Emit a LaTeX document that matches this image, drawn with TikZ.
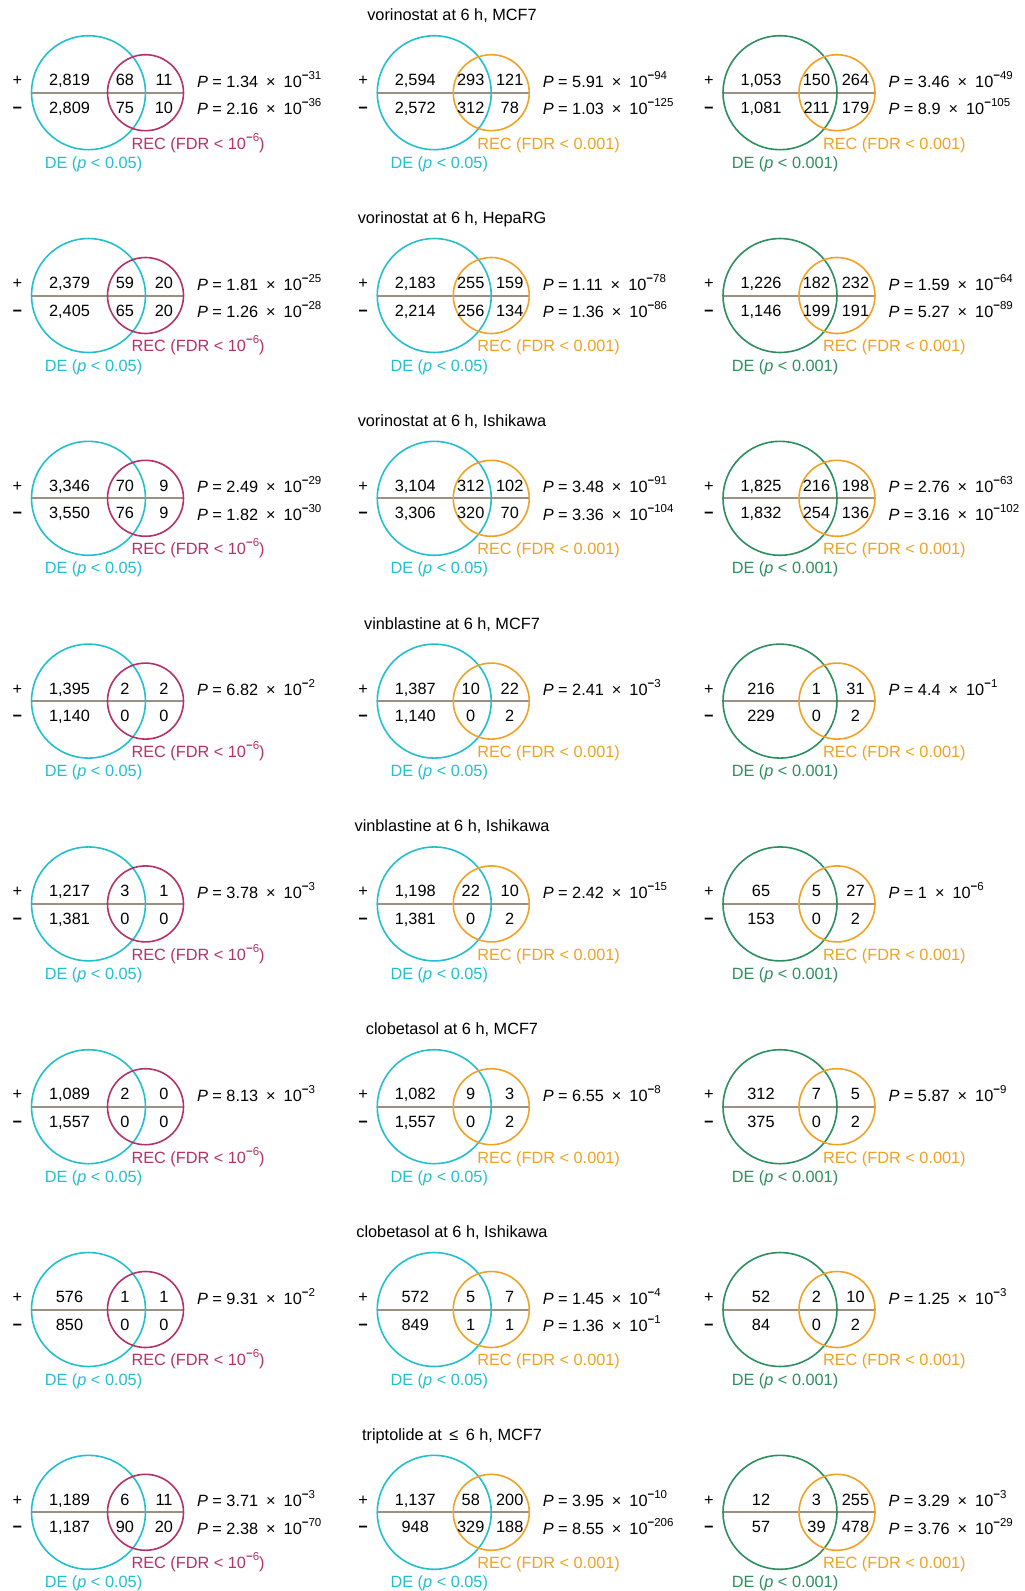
\documentclass[tikz,border=0pt]{standalone}
\usepackage{fontspec}
\setmainfont{Liberation Sans}
\definecolor{decyan}{HTML}{22C0CE}
\definecolor{degreen}{HTML}{2E8F5E}
\definecolor{recmag}{HTML}{B5316A}
\definecolor{recorange}{HTML}{F0A226}
\definecolor{linegray}{HTML}{9E9080}
\tikzset{
  bigc/.style={circle, minimum size=114pt, inner sep=0pt, outer sep=0pt, line width=1.6pt},
  smallc/.style={circle, minimum size=76pt, inner sep=0pt, outer sep=0pt, line width=1.6pt},
  divline/.style={draw=linegray, line width=2pt},
  txt/.style={inner sep=0pt, outer sep=0pt, font=\fontsize{16.3}{19}\selectfont},
}
\newcommand\supx[1]{\raisebox{8pt}{\fontsize{11.5}{12}\selectfont\textbf{−}#1}}
\newcommand\pval[2]{\textit{P} = #1\hspace{3.5pt} × \hspace{3.5pt}10\supx{#2}}
\newcommand\venn[9]{\def\vnm{#1}\def\vcol{#2}\def\vrow{#3}\def\vA{#4}\def\vB{#5}\def\vC{#6}\def\vD{#7}\def\vE{#8}\def\vF{#9}\vennrest}
\newcommand\vennrest[2]{%
  \pgfmathsetmacro\cx{88.5+345.75*(\vcol-1)}%
  \pgfmathsetmacro\cy{92.7+202.8*\vrow}%
  \ifcase\vcol\or
    \def\bigcol{decyan}\def\smallcol{recmag}\def\reclab{REC (FDR < 10\supx{6})}\def\delab{DE (\textit{p} < 0.05)}%
  \or
    \def\bigcol{decyan}\def\smallcol{recorange}\def\reclab{REC (FDR < 0.001)}\def\delab{DE (\textit{p} < 0.05)}%
  \or
    \def\bigcol{degreen}\def\smallcol{recorange}\def\reclab{REC (FDR < 0.001)}\def\delab{DE (\textit{p} < 0.001)}%
  \fi
  \draw[divline] ({\cx-57},\cy) -- ({\cx+95},\cy);
  \node[bigc, draw=\bigcol] (\vnm-de) at (\cx,\cy) {};
  \node[smallc, draw=\smallcol] (\vnm-rec) at ({\cx+57},\cy) {};
  \node[txt, anchor=base] (\vnm-plus) at ({\cx-71},{\cy-7}) {+};
  \node[txt, anchor=base] (\vnm-minus) at ({\cx-71},{\cy+20.5}) {\textbf{−}};
  \node[txt, anchor=base] (\vnm-ul) at ({\cx-19},{\cy-7}) {\vA};
  \node[txt, anchor=base] (\vnm-um) at ({\cx+36.5},{\cy-7}) {\vB};
  \node[txt, anchor=base] (\vnm-ur) at ({\cx+75.5},{\cy-7}) {\vC};
  \node[txt, anchor=base] (\vnm-ll) at ({\cx-19},{\cy+20.5}) {\vD};
  \node[txt, anchor=base] (\vnm-lm) at ({\cx+36.5},{\cy+20.5}) {\vE};
  \node[txt, anchor=base] (\vnm-lr) at ({\cx+75.5},{\cy+20.5}) {\vF};
  \node[txt, anchor=base west] (\vnm-p1) at ({\cx+108.5},{\cy-5.5}) {#1};
  \def\tmpp{#2}\ifx\tmpp\empty\else
  \node[txt, anchor=base west] (\vnm-p2) at ({\cx+108.5},{\cy+22}) {#2};
  \fi
  \node[txt, anchor=base west, text=\smallcol] (\vnm-reclab) at ({\cx+43},{\cy+56.3}) {\reclab};
  \node[txt, anchor=base, text=\bigcol] (\vnm-delab) at ({\cx+5},{\cy+75.6}) {\delab};
}
\begin{document}
\begin{tikzpicture}[x=1pt,y=-1pt]
\fill[white] (0,0) rectangle (1025,1591);
\useasboundingbox (0,0) rectangle (1025,1591);
% titles
\node[txt,anchor=base] (title1) at (452,{92.7+202.8*0-72}) {vorinostat at 6 h, MCF7};
\node[txt,anchor=base] (title2) at (452,{92.7+202.8*1-72}) {vorinostat at 6 h, HepaRG};
\node[txt,anchor=base] (title3) at (452,{92.7+202.8*2-72}) {vorinostat at 6 h, Ishikawa};
\node[txt,anchor=base] (title4) at (452,{92.7+202.8*3-72}) {vinblastine at 6 h, MCF7};
\node[txt,anchor=base] (title5) at (452,{92.7+202.8*4-72}) {vinblastine at 6 h, Ishikawa};
\node[txt,anchor=base] (title6) at (452,{92.7+202.8*5-72}) {clobetasol at 6 h, MCF7};
\node[txt,anchor=base] (title7) at (452,{92.7+202.8*6-72}) {clobetasol at 6 h, Ishikawa};
\node[txt,anchor=base] (title8) at (452,{92.7+202.8*7-72}) {triptolide at\hspace{3pt} ≤ \hspace{3pt}6 h, MCF7};
% row 1
\venn{r1a}{1}{0}{2,819}{68}{11}{2,809}{75}{10}{\pval{1.34}{31}}{\pval{2.16}{36}}
\venn{r1b}{2}{0}{2,594}{293}{121}{2,572}{312}{78}{\pval{5.91}{94}}{\pval{1.03}{125}}
\venn{r1c}{3}{0}{1,053}{150}{264}{1,081}{211}{179}{\pval{3.46}{49}}{\pval{8.9}{105}}
% row 2
\venn{r2a}{1}{1}{2,379}{59}{20}{2,405}{65}{20}{\pval{1.81}{25}}{\pval{1.26}{28}}
\venn{r2b}{2}{1}{2,183}{255}{159}{2,214}{256}{134}{\pval{1.11}{78}}{\pval{1.36}{86}}
\venn{r2c}{3}{1}{1,226}{182}{232}{1,146}{199}{191}{\pval{1.59}{64}}{\pval{5.27}{89}}
% row 3
\venn{r3a}{1}{2}{3,346}{70}{9}{3,550}{76}{9}{\pval{2.49}{29}}{\pval{1.82}{30}}
\venn{r3b}{2}{2}{3,104}{312}{102}{3,306}{320}{70}{\pval{3.48}{91}}{\pval{3.36}{104}}
\venn{r3c}{3}{2}{1,825}{216}{198}{1,832}{254}{136}{\pval{2.76}{63}}{\pval{3.16}{102}}
% row 4
\venn{r4a}{1}{3}{1,395}{2}{2}{1,140}{0}{0}{\pval{6.82}{2}}{}
\venn{r4b}{2}{3}{1,387}{10}{22}{1,140}{0}{2}{\pval{2.41}{3}}{}
\venn{r4c}{3}{3}{216}{1}{31}{229}{0}{2}{\pval{4.4}{1}}{}
% row 5
\venn{r5a}{1}{4}{1,217}{3}{1}{1,381}{0}{0}{\pval{3.78}{3}}{}
\venn{r5b}{2}{4}{1,198}{22}{10}{1,381}{0}{2}{\pval{2.42}{15}}{}
\venn{r5c}{3}{4}{65}{5}{27}{153}{0}{2}{\pval{1}{6}}{}
% row 6
\venn{r6a}{1}{5}{1,089}{2}{0}{1,557}{0}{0}{\pval{8.13}{3}}{}
\venn{r6b}{2}{5}{1,082}{9}{3}{1,557}{0}{2}{\pval{6.55}{8}}{}
\venn{r6c}{3}{5}{312}{7}{5}{375}{0}{2}{\pval{5.87}{9}}{}
% row 7
\venn{r7a}{1}{6}{576}{1}{1}{850}{0}{0}{\pval{9.31}{2}}{}
\venn{r7b}{2}{6}{572}{5}{7}{849}{1}{1}{\pval{1.45}{4}}{\pval{1.36}{1}}
\venn{r7c}{3}{6}{52}{2}{10}{84}{0}{2}{\pval{1.25}{3}}{}
% row 8
\venn{r8a}{1}{7}{1,189}{6}{11}{1,187}{90}{20}{\pval{3.71}{3}}{\pval{2.38}{70}}
\venn{r8b}{2}{7}{1,137}{58}{200}{948}{329}{188}{\pval{3.95}{10}}{\pval{8.55}{206}}
\venn{r8c}{3}{7}{12}{3}{255}{57}{39}{478}{\pval{3.29}{3}}{\pval{3.76}{29}}
\end{tikzpicture}
\end{document}
